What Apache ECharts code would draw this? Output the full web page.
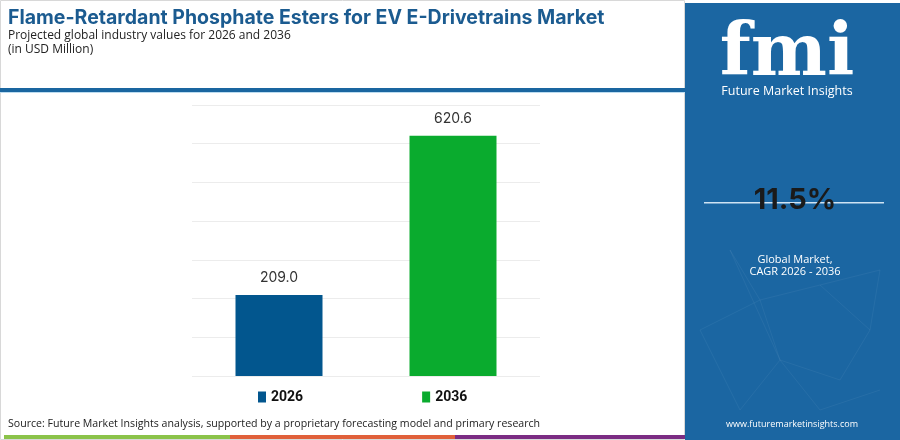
<!DOCTYPE html>
<html>
<head>
<meta charset="utf-8">
<script src="https://cdn.jsdelivr.net/npm/echarts@6/dist/echarts.min.js"></script>
<style>
  html, body { margin: 0; padding: 0; background: #fff; }
  #chart-container { width: 900px; height: 440px; }
</style>
</head>
<body>
<div id="chart-container"></div>
<script>
const years = ['2026', '2036'];
const values = [209.0, 620.6];
const barColors = ['#02568e', '#0aab2e'];
const cagrText = '11.5%';

window.addEventListener('load', function () {
  const dom = document.getElementById('chart-container');
  const myChart = echarts.init(dom, null, { renderer: 'canvas' });

  const series = years.map(function (y, i) {
    return {
      name: y,
      type: 'bar',
      stack: 'one',
      barWidth: '50%',
      itemStyle: { color: barColors[i] },
      label: {
        show: true,
        position: 'top',
        distance: 10,
        color: '#333',
        fontFamily: 'Inter',
        fontSize: 14,
        formatter: function (p) { return p.value.toFixed(1); }
      },
      data: years.map(function (c, j) { return j === i ? values[i] : '-'; })
    };
  });

  // faint network lines in the side panel
  const net = [
    [[730, 250], [760, 300], [820, 285], [870, 330], [840, 380], [780, 360], [730, 250]],
    [[700, 330], [760, 300], [780, 360], [740, 410], [700, 330]],
    [[820, 285], [880, 270], [870, 330]],
    [[780, 360], [820, 410], [880, 390]]
  ];
  const netGraphics = net.map(function (pts) {
    return { type: 'polyline', shape: { points: pts }, style: { stroke: 'rgba(255,255,255,0.05)', lineWidth: 1, fill: null }, silent: true };
  });

  const option = {
    animation: false,
    grid: { left: 192, right: 360, top: 105, bottom: 64 },
    legend: {
      data: years,
      left: 258,
      top: 390,
      padding: 0,
      itemWidth: 8,
      itemHeight: 11,
      itemGap: 119,
      icon: 'rect',
      textStyle: { fontFamily: 'Roboto', fontWeight: 'bold', fontSize: 14, color: '#111' }
    },
    xAxis: {
      type: 'category',
      data: years,
      axisLine: { show: false },
      axisTick: { show: false },
      axisLabel: { show: false }
    },
    yAxis: {
      type: 'value',
      min: 0,
      max: 700,
      interval: 100,
      axisLabel: { show: false },
      axisLine: { show: false },
      axisTick: { show: false },
      splitLine: { lineStyle: { color: '#ececec' } }
    },
    graphic: [
      { type: 'rect', shape: { x: 0.5, y: 0.5, width: 684, height: 439 }, style: { fill: null, stroke: '#d8d8d8', lineWidth: 1 }, silent: true },
      { type: 'text', left: 8, top: 8, style: { text: 'Flame-Retardant Phosphate Esters for EV E-Drivetrains Market', fill: '#1b5b90', font: 'bold 19.5px Inter' } },
      { type: 'text', left: 8, top: 30, style: { text: 'Projected global industry values for 2026 and 2036', fill: '#222', font: '12px "Open Sans"' } },
      { type: 'text', left: 8, top: 44, style: { text: '(in USD Million)', fill: '#222', font: '12px "Open Sans"' } },
      { type: 'rect', shape: { x: 0, y: 88, width: 685, height: 4 }, style: { fill: '#1a66a0' } },
      { type: 'rect', shape: { x: 0, y: 92, width: 685, height: 1 }, style: { fill: '#bcdcf0' } },
      { type: 'text', left: 8, top: 418, style: { text: 'Source: Future Market Insights analysis, supported by a proprietary forecasting model and primary research', fill: '#222', font: '10.6px "Open Sans"' } },
      { type: 'rect', shape: { x: 4, y: 435, width: 226, height: 4 }, style: { fill: '#8bc34a' } },
      { type: 'rect', shape: { x: 230, y: 435, width: 225, height: 4 }, style: { fill: '#e0603a' } },
      { type: 'rect', shape: { x: 455, y: 435, width: 230, height: 4 }, style: { fill: '#7b2c83' } },
      { type: 'rect', shape: { x: 685, y: 3, width: 215, height: 437 }, style: { fill: '#1b66a2' } }
    ].concat(netGraphics).concat([
      { type: 'text', x: 787, y: 20, style: { text: 'fmi', fill: '#fff', font: 'bold 72px "DejaVu Serif"', align: 'center', verticalAlign: 'top' } },
      { type: 'text', x: 787, y: 85, style: { text: 'Future Market Insights', fill: '#fff', font: '12.5px "Open Sans"', align: 'center', verticalAlign: 'top' } },
      { type: 'rect', shape: { x: 704, y: 202, width: 180, height: 1.5 }, style: { fill: '#cfe3f3' } },
      { type: 'text', x: 795, y: 200, style: { text: cagrText, fill: '#1a1a1a', font: 'bold 29px Inter', align: 'center', verticalAlign: 'middle' } },
      { type: 'text', x: 795, y: 260, style: { text: 'Global Market,', fill: '#fff', font: '11px "Open Sans"', align: 'center', verticalAlign: 'middle' } },
      { type: 'text', x: 795, y: 272, style: { text: 'CAGR 2026 - 2036', fill: '#fff', font: '11px "Open Sans"', align: 'center', verticalAlign: 'middle' } },
      { type: 'text', x: 792, y: 424, style: { text: 'www.futuremarketinsights.com', fill: '#fff', font: '9px "Open Sans"', align: 'center', verticalAlign: 'middle' } }
    ]),
    series: series
  };

  myChart.setOption(option, true);
});
</script>
</body>
</html>
